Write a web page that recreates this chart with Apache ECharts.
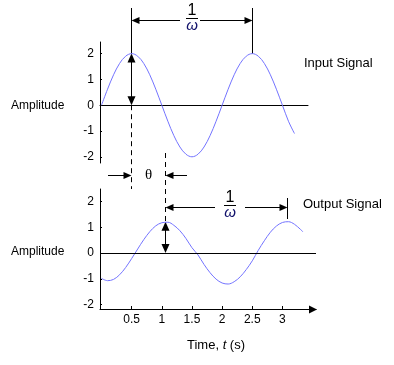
<!DOCTYPE html>
<html><head><meta charset="utf-8">
<script src="https://cdn.jsdelivr.net/npm/echarts@6/dist/echarts.min.js"></script>
<style>html,body{margin:0;padding:0;background:#fff}#c{width:394px;height:365px}</style>
</head><body><div id="c"></div>
<script>
// ---- data ----
const inputTime = [0,0.1,0.2,0.3,0.4,0.5,0.6,0.7,0.8,0.9,1.0,1.1,1.2,1.3,1.4,1.5,1.6,1.7,1.8,1.9,2.0,2.1,2.2,2.3,2.4,2.5,2.6,2.7,2.8,2.9,3.0,3.1,3.2];
const inputValues = [0,0.62,1.18,1.62,1.9,2.0,1.9,1.62,1.18,0.62,0,-0.62,-1.18,-1.62,-1.9,-2.0,-1.9,-1.62,-1.18,-0.62,0,0.62,1.18,1.62,1.9,2.0,1.9,1.62,1.18,0.62,0,-0.62,-1.1];
const outputTime = [0,0.1,0.2,0.3,0.4,0.5,0.6,0.7,0.8,0.9,1.0,1.1,1.2,1.3,1.4,1.5,1.6,1.7,1.8,1.9,2.0,2.1,2.2,2.3,2.4,2.5,2.6,2.7,2.8,2.9,3.0,3.1,3.2,3.3,3.34];
const outputValues = [-0.98,-1.07,-1.02,-0.84,-0.56,-0.21,0.16,0.52,0.83,1.06,1.18,1.2,1.08,0.87,0.57,0.21,-0.07,-0.44,-0.76,-1.01,-1.16,-1.2,-1.11,-0.92,-0.64,-0.3,0.11,0.48,0.81,1.05,1.19,1.22,1.12,0.92,0.83];
const xTickValues = [0.5,1,1.5,2,2.5,3];
const yTickValues = [-2,-1,0,1,2];
const inputPeaks = [0.5, 2.5];
const outputPeaks = [1.065, 3.08];
const inputAmplitude = 2;
const outputAmplitude = 1.22;

const FONT = 'Liberation Sans, Arial, sans-serif';
const chart = echarts.init(document.getElementById('c'), null, {renderer:'canvas'});

function yAxisCfg(grid, min, max){
  return {type:'value', gridIndex:grid, min:min, max:max,
    axisLine:{show:true, onZero:false, lineStyle:{color:'#000', width:1}},
    axisTick:{show:true, inside:true, length:2, customValues:yTickValues, lineStyle:{color:'#000'}},
    axisLabel:{show:true, customValues:yTickValues, margin:6, fontSize:12, color:'#000', fontFamily:FONT},
    splitLine:{show:false}};
}

const option = {
  animation:false,
  textStyle:{fontFamily:FONT},
  grid:[{left:100, top:42, width:208, height:121},{left:100, top:189, width:216, height:120}],
  xAxis:[
    {type:'value', gridIndex:0, min:-0.025, max:3.424,
     axisLine:{show:true, onZero:true, lineStyle:{color:'#000', width:1}},
     axisTick:{show:false}, axisLabel:{show:false}, splitLine:{show:false}},
    {type:'value', gridIndex:1, min:-0.025, max:3.557,
     axisLine:{show:true, onZero:false, lineStyle:{color:'#000', width:1}},
     axisTick:{show:true, inside:true, length:3, customValues:xTickValues, lineStyle:{color:'#000'}},
     axisLabel:{show:true, customValues:xTickValues, margin:5, fontSize:12, color:'#000', fontFamily:FONT},
     splitLine:{show:false}}
  ],
  yAxis:[yAxisCfg(0,-2.24,2.45), yAxisCfg(1,-2.17,2.49)],
  series:[
    {type:'line', xAxisIndex:0, yAxisIndex:0, data:inputTime.map((t,i)=>[t,inputValues[i]]),
     showSymbol:false, smooth:0.35, lineStyle:{color:'#7373ff', width:1}},
    {type:'line', xAxisIndex:1, yAxisIndex:1, data:outputTime.map((t,i)=>[t,outputValues[i]]),
     showSymbol:false, smooth:0.35, lineStyle:{color:'#7373ff', width:1},
     markLine:{silent:true, symbol:['none','none'], label:{show:false},
       lineStyle:{color:'#000', width:1, type:'solid'}, data:[{yAxis:0}]}}
  ]
};
chart.setOption(option);

// ---- annotations positioned from the axes' scales ----
const p0 = (t,v)=>chart.convertToPixel({gridIndex:0},[t,v]);
const p1 = (t,v)=>chart.convertToPixel({gridIndex:1},[t,v]);
const E = [];
const cr = v => Math.round(v - 0.5) + 0.5;
function line(x1,y1,x2,y2,dash){
  E.push({type:'line', silent:true, shape:{x1:x1,y1:y1,x2:x2,y2:y2},
    style:{stroke:'#000', lineWidth:1, lineDash:dash||null}});
}
function head(x,y,dir,len,hw){
  len = len||8; hw = hw||3.5; let pts;
  if(dir==='left') pts=[[x,y],[x+len,y-hw],[x+len,y+hw]];
  if(dir==='right') pts=[[x,y],[x-len,y-hw],[x-len,y+hw]];
  if(dir==='up') pts=[[x,y],[x-hw,y+len],[x+hw,y+len]];
  if(dir==='down') pts=[[x,y],[x-hw,y-len],[x+hw,y-len]];
  E.push({type:'polygon', silent:true, shape:{points:pts}, style:{fill:'#000'}});
}
function text(x,y,str,size,opts){
  const st = Object.assign({text:str, fill:'#000', fontSize:size, fontFamily:FONT,
    align:'left', verticalAlign:'middle', textAlign:'left', textVerticalAlign:'middle'}, opts||{});
  E.push({type:'text', silent:true, x:x, y:y, style:st});
}
function fraction(cx, yOne, yBar, yOmega){
  text(cx, yOne, '1', 16, {align:'center', textAlign:'center'});
  line(cx-6, cr(yBar), cx+6, cr(yBar));
  text(cx, yOmega, 'ω', 15, {align:'center', textAlign:'center', fontStyle:'italic', fill:'#10106a'});
}

const ax = cr(p0(inputPeaks[0],0)[0]);
const bx = cr(p0(inputPeaks[1],0)[0]);
const apy = p0(0,inputAmplitude)[1];
const zy0 = p0(0,0)[1];
const cx = cr(p1(outputPeaks[0],0)[0]);
const dx = cr(p1(outputPeaks[1],0)[0]);
const cpy = p1(0,outputAmplitude)[1];
const zy1 = p1(0,0)[1];

// top 1/ω period marker
line(ax, 8, ax, apy);
line(bx, 8, bx, apy);
const topY = 20.5, fx0 = (ax+bx)/2;
line(fx0-12, topY, ax+6, topY); head(ax, topY, 'left');
line(fx0+8, topY, bx-6, topY); head(bx, topY, 'right');
fraction(fx0, 11, 18.5, 26);

// input amplitude double arrow + dashed guide
line(ax, apy+6, ax, zy0-6); head(ax, apy, 'up', 9, 4); head(ax, zy0, 'down', 9, 4);
line(ax, zy0, ax, 189, [5,4]);

// output amplitude double arrow + dashed guide
line(cx, 153, cx, cpy, [5,4]);
line(cx, cpy+6, cx, zy1-6); head(cx, cpy, 'up', 9, 4); head(cx, zy1, 'down', 9, 4);

// theta phase marker
const thY = 175.5;
line(108, thY, ax-6, thY); head(ax, thY, 'right');
line(187, thY, cx+6, thY); head(cx, thY, 'left');
text((ax+cx)/2, thY, 'θ', 15, {align:'center', textAlign:'center', fontFamily:'Liberation Serif, Times New Roman, serif'});

// bottom 1/ω period marker
line(dx, 198, dx, 219);
const botY = 207.5, fx1 = 230;
line(fx1-15, botY, cx+6, botY); head(cx, botY, 'left');
line(fx1+15, botY, dx-6, botY); head(dx, botY, 'right');
fraction(fx1, 197.5, 205.5, 212.5);

// x-axis arrow head
const axEnd = p1(3.557, 0)[0];
const axY = cr(p1(0,-2.17)[1]);
head(axEnd+1, axY, 'right', 8, 4);

// labels
text(11, 106, 'Amplitude', 12);
text(11, 252, 'Amplitude', 12);
text(304, 63, 'Input Signal', 13);
text(303, 204, 'Output Signal', 13);
E.push({type:'text', silent:true, x:187, y:345, style:{
  text:'Time, {i|t} (s)', fill:'#000', fontSize:13, fontFamily:FONT,
  align:'left', verticalAlign:'middle', textAlign:'left', textVerticalAlign:'middle',
  rich:{i:{fontStyle:'italic', fontSize:13, fontFamily:FONT, fill:'#000'}}}});

chart.setOption({graphic:{elements:E}});
</script>
</body></html>
